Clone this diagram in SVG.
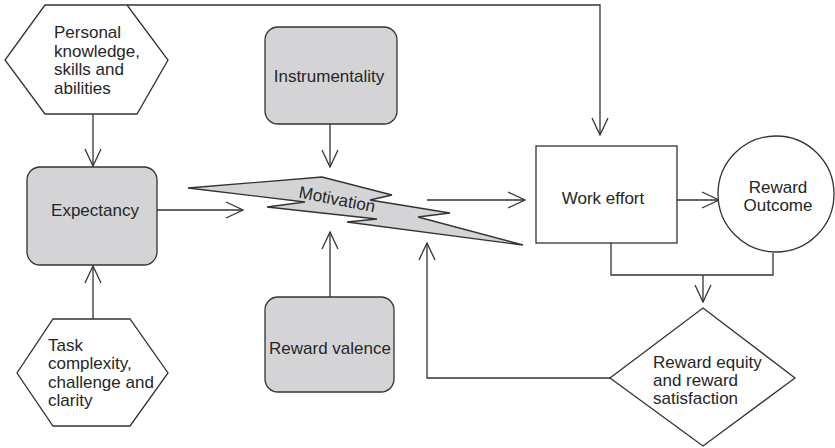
<svg xmlns="http://www.w3.org/2000/svg" width="835" height="448" viewBox="0 0 835 448">
  <defs>
    <marker id="arrow" markerUnits="userSpaceOnUse" markerWidth="24" markerHeight="24" viewBox="-20 -12 24 24" refX="0" refY="0" orient="auto">
      <path d="M-17,-8 L0,0 L-17,8" fill="none" stroke="#333" stroke-width="1.3"/>
    </marker>
    <style>
      .shape { stroke: #333; stroke-width: 1.3; }
      .grey { fill: #d4d4d6; }
      .white { fill: #ffffff; }
      .wire { fill: none; stroke: #333; stroke-width: 1.3; }
      .label { font-family: "Liberation Sans", Arial, sans-serif; font-size: 17px; fill: #262626; }
      .mid { text-anchor: middle; }
    </style>
  </defs>

  <rect width="835" height="448" fill="#ffffff"/>

  <!-- connectors -->
  <g id="connectors">
    <path class="wire" d="M127,5 H600 V135" marker-end="url(#arrow)"/>
    <path class="wire" d="M93,114 V166" marker-end="url(#arrow)"/>
    <path class="wire" d="M93,319 V266" marker-end="url(#arrow)"/>
    <path class="wire" d="M157,210 H243" marker-end="url(#arrow)"/>
    <path class="wire" d="M330,124 V167" marker-end="url(#arrow)"/>
    <path class="wire" d="M330,297 V232" marker-end="url(#arrow)"/>
    <path class="wire" d="M427,200 H525" marker-end="url(#arrow)"/>
    <path class="wire" d="M677,200 H719" marker-end="url(#arrow)"/>
    <path class="wire" d="M611,243 V275 H773 V253"/>
    <path class="wire" d="M703,275 V302" marker-end="url(#arrow)"/>
    <path class="wire" d="M610,378 H427 V243" marker-end="url(#arrow)"/>
  </g>

  <!-- Personal knowledge, skills and abilities -->
  <g id="personal">
    <polygon class="shape white" points="45,5 127,5 168,60 137,114 45,114 5,60"/>
    <text class="label" x="54" y="38">Personal</text>
    <text class="label" x="54" y="57">knowledge,</text>
    <text class="label" x="54" y="75">skills and</text>
    <text class="label" x="54" y="94">abilities</text>
  </g>

  <!-- Expectancy -->
  <g id="expectancy">
    <rect class="shape grey" x="27" y="167" width="130" height="98" rx="13"/>
    <text class="label mid" x="95" y="216">Expectancy</text>
  </g>

  <!-- Task complexity, challenge and clarity -->
  <g id="task">
    <polygon class="shape white" points="53,319 130,319 168,373 130,426 53,426 17,373"/>
    <text class="label" x="48" y="351">Task</text>
    <text class="label" x="48" y="369">complexity,</text>
    <text class="label" x="48" y="388">challenge and</text>
    <text class="label" x="48" y="406">clarity</text>
  </g>

  <!-- Instrumentality -->
  <g id="instrumentality">
    <rect class="shape grey" x="265" y="27" width="132" height="97" rx="13"/>
    <text class="label mid" x="329" y="82">Instrumentality</text>
  </g>

  <!-- Reward valence -->
  <g id="valence">
    <rect class="shape grey" x="265" y="297" width="129" height="95" rx="13"/>
    <text class="label mid" x="330" y="354">Reward valence</text>
  </g>

  <!-- Motivation bolt -->
  <g id="motivation">
    <polygon class="shape grey" points="188,188 322,177 392,195 370,200 450,213 418,217 523,245 347,222 377,219 267,207 305,202"/>
    <text class="label mid" transform="translate(336,205) rotate(11)">Motivation</text>
  </g>

  <!-- Work effort -->
  <g id="work-effort">
    <rect class="shape white" x="536" y="146" width="141" height="97"/>
    <text class="label mid" x="603" y="204">Work effort</text>
  </g>

  <!-- Reward Outcome -->
  <g id="reward-outcome">
    <circle class="shape white" cx="776" cy="194" r="58"/>
    <text class="label mid" x="778" y="193">Reward</text>
    <text class="label mid" x="778" y="211">Outcome</text>
  </g>

  <!-- Reward equity and reward satisfaction -->
  <g id="equity">
    <polygon class="shape white" points="703,308 795,378 703,446 610,378"/>
    <text class="label" x="653" y="368">Reward equity</text>
    <text class="label" x="653" y="386">and reward</text>
    <text class="label" x="653" y="404">satisfaction</text>
  </g>
</svg>
